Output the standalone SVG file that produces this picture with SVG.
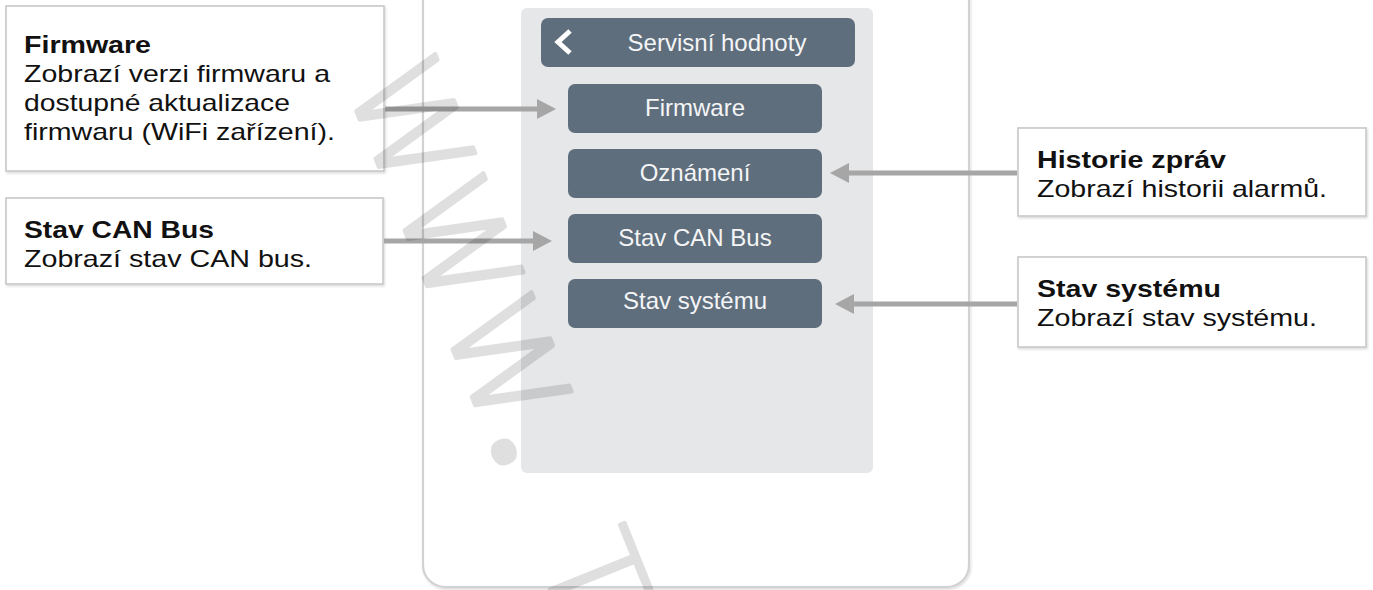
<svg xmlns="http://www.w3.org/2000/svg" width="1373" height="590" viewBox="0 0 1373 590">
<defs>
<style>
.callout{fill:#ffffff;stroke:#c8c8c8;stroke-width:1.6}
.h{font-family:"Liberation Sans",Arial,sans-serif;font-weight:bold;font-size:24px;fill:#111}
.d{font-family:"Liberation Sans",Arial,sans-serif;font-size:24px;fill:#111}
.btn{fill:#5f6e7c}
.bt{font-family:"Liberation Sans",Arial,sans-serif;font-size:24px;fill:#f4f5f6;text-anchor:middle}
.conn{stroke:#a6a6a6;stroke-width:5;fill:none}
.wm{font-family:"DejaVu Sans",sans-serif;font-weight:200;font-size:130px;fill:#000;stroke:#000;stroke-width:4;stroke-linejoin:round}
</style>
<filter id="sh" x="-5%" y="-5%" width="110%" height="115%">
<feDropShadow dx="1" dy="1.5" stdDeviation="1.2" flood-color="#000" flood-opacity="0.15"/>
</filter>
<marker id="ah" markerUnits="userSpaceOnUse" markerWidth="19" markerHeight="20" refX="2" refY="10" orient="auto">
<path d="M0,0 L19,10 L0,20 z" fill="#a6a6a6"/>
</marker>
</defs>
<rect width="1373" height="590" fill="#ffffff"/>

<g id="phone">
<rect x="423" y="-40" width="546" height="627" rx="22" fill="#ffffff" stroke="#d2d2d2" stroke-width="2.2" filter="url(#sh)"/>
<rect x="521" y="8" width="352" height="465" rx="6" fill="#e6e7e9"/>
</g>

<g id="header">
<rect x="541" y="18" width="314" height="49" rx="7" class="btn"/>
<polyline points="570,31 558,42 570,53" fill="none" stroke="#ffffff" stroke-width="5"/>
<text x="717" y="51" class="bt">Servisní hodnoty</text>
</g>
<g id="btn-firmware">
<rect x="568" y="84" width="254" height="49" rx="7" class="btn"/>
<text x="695" y="116" class="bt">Firmware</text>
</g>
<g id="btn-oznameni">
<rect x="568" y="149" width="254" height="49" rx="7" class="btn"/>
<text x="695" y="181" class="bt">Oznámení</text>
</g>
<g id="btn-can">
<rect x="568" y="214" width="254" height="49" rx="7" class="btn"/>
<text x="695" y="246" class="bt">Stav CAN Bus</text>
</g>
<g id="btn-system">
<rect x="568" y="279" width="254" height="49" rx="7" class="btn"/>
<text x="695" y="309" class="bt">Stav systému</text>
</g>

<g id="note-firmware">
<rect x="6" y="6" width="378" height="165" class="callout" filter="url(#sh)"/>
<text x="24" y="53" class="h" textLength="127" lengthAdjust="spacingAndGlyphs">Firmware</text>
<text x="24" y="82" class="d" textLength="306" lengthAdjust="spacingAndGlyphs">Zobrazí verzi firmwaru a</text>
<text x="24" y="111" class="d" textLength="266" lengthAdjust="spacingAndGlyphs">dostupné aktualizace</text>
<text x="24" y="140" class="d" textLength="311" lengthAdjust="spacingAndGlyphs">firmwaru (WiFi zařízení).</text>
</g>
<g id="note-can">
<rect x="6" y="198" width="377" height="86" class="callout" filter="url(#sh)"/>
<text x="24" y="238" class="h" textLength="190" lengthAdjust="spacingAndGlyphs">Stav CAN Bus</text>
<text x="24" y="267" class="d" textLength="288" lengthAdjust="spacingAndGlyphs">Zobrazí stav CAN bus.</text>
</g>
<g id="note-historie">
<rect x="1018" y="128" width="348" height="88" class="callout" filter="url(#sh)"/>
<text x="1037" y="168" class="h" textLength="189" lengthAdjust="spacingAndGlyphs">Historie zpráv</text>
<text x="1037" y="197" class="d" textLength="290" lengthAdjust="spacingAndGlyphs">Zobrazí historii alarmů.</text>
</g>
<g id="note-system">
<rect x="1018" y="257" width="348" height="90" class="callout" filter="url(#sh)"/>
<text x="1037" y="297" class="h" textLength="184" lengthAdjust="spacingAndGlyphs">Stav systému</text>
<text x="1037" y="326" class="d" textLength="280" lengthAdjust="spacingAndGlyphs">Zobrazí stav systému.</text>
</g>

<g id="connectors">
<path class="conn" d="M385 109 H539" marker-end="url(#ah)"/>
<path class="conn" d="M384 241 H535" marker-end="url(#ah)"/>
<path class="conn" d="M1017 173 H847" marker-end="url(#ah)"/>
<path class="conn" d="M1017 304 H852" marker-end="url(#ah)"/>
</g>

<g id="watermark" opacity="0.12">
<text class="wm" transform="translate(344,81) rotate(68)">WWW<tspan font-family="'Noto Sans',sans-serif" font-weight="bold">.</tspan><tspan dx="90">T</tspan></text>
</g>
</svg>
